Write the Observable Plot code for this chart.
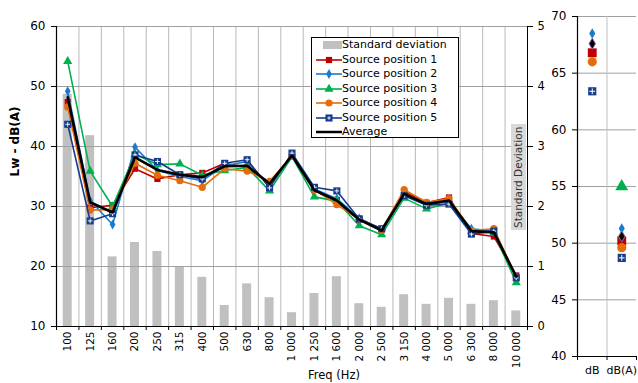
<!DOCTYPE html>
<html>
<head>
<meta charset="utf-8">
<script src="https://cdn.jsdelivr.net/npm/d3@7"></script>
<script src="https://cdn.jsdelivr.net/npm/@observablehq/plot@0.6"></script>
<style>
  html, body { margin: 0; padding: 0; background: white; }
  #wrap { position: relative; width: 638px; height: 383px; font-family: "DejaVu Sans", sans-serif; overflow: hidden; }
  .legend { position: absolute; left: 311px; top: 37px; width: 146px; height: 99px; border: 1px solid #000; background: #fff; font-size: 11px; color: #000; }
  .legend .row { position: absolute; left: 0; height: 14px; line-height: 14px; white-space: nowrap; }
  .legend svg { position: absolute; left: 2px; top: 0; }
  .legend span { position: absolute; left: 30px; top: 0; }
  .sdlabel { position: absolute; left: 511px; top: 124px; width: 15px; height: 106px; background: #d9d9d9; color: #333;
             font-size: 10.5px; writing-mode: vertical-rl; transform: rotate(180deg); text-align: center; line-height: 15px; }
</style>
</head>
<body>
<div id="wrap"></div>
<script>
// ---- Data ----
const freqs = ["100","125","160","200","250","315","400","500","630","800","1 000","1 250","1 600","2 000","2 500","3 150","4 000","5 000","6 300","8 000","10 000"];
const stdDev = [3.87, 3.18, 1.16, 1.40, 1.25, 1.00, 0.82, 0.35, 0.71, 0.48, 0.23, 0.55, 0.83, 0.38, 0.32, 0.53, 0.37, 0.47, 0.37, 0.43, 0.26];
const pos1 = [47.4, 29.8, 30.2, 36.3, 34.6, 35.3, 35.6, 37.2, 36.5, 33.8, 38.5, 32.8, 31.1, 28.0, 26.2, 32.5, 30.6, 31.5, 25.5, 25.0, 18.5];
const pos2 = [49.2, 31.0, 27.0, 39.9, 36.0, 35.0, 34.3, 36.8, 37.5, 33.3, 38.6, 32.9, 31.3, 28.0, 26.1, 32.0, 30.2, 30.9, 26.3, 25.9, 18.2];
const pos3 = [54.2, 35.9, 30.0, 38.7, 37.0, 37.1, 35.2, 36.0, 36.5, 32.6, 38.3, 31.6, 30.9, 26.8, 25.3, 31.4, 29.6, 30.6, 25.8, 25.6, 17.3];
const pos4 = [46.6, 29.4, 29.5, 37.2, 35.2, 34.3, 33.2, 36.3, 35.9, 34.2, 38.4, 32.8, 30.3, 27.8, 26.0, 32.8, 30.7, 31.3, 26.0, 26.3, 18.2];
const pos5 = [43.7, 27.6, 28.8, 38.6, 37.5, 35.3, 34.6, 37.2, 37.8, 33.1, 38.9, 33.2, 32.6, 27.9, 26.3, 31.8, 30.2, 30.4, 25.4, 25.9, 18.1];
const average = [48.2, 30.7, 29.0, 38.2, 36.1, 35.3, 34.9, 36.7, 36.8, 33.8, 38.5, 32.7, 31.0, 27.8, 26.0, 32.1, 30.4, 31.0, 25.9, 25.7, 18.3];

const seriesNames = ["Source position 1", "Source position 2", "Source position 3", "Source position 4", "Source position 5", "Average"];
const seriesColors = ["#c00000", "#1a7ad0", "#00b050", "#e46c0a", "#163c8c", "#000000"];
const seriesSymbols = ["square", "diamond", "triangle", "circle", "square", "diamond"];

const overallLabels = ["dB", "dB(A)"];
const overallDB  = [66.8, 68.5, null, 66.0, 63.4, 67.6];
const overallDBA = [50.2, 51.3, 55.0, 49.6, 48.7, 50.6];

const leftTicks = [10, 20, 30, 40, 50, 60];
const sideTicks = [40, 45, 50, 55, 60, 65, 70];

// ---- Build ----
const allSeries = [pos1, pos2, pos3, pos4, pos5, average];
const idx = d3.range(freqs.length);
const bounds = d3.range(freqs.length + 1).map(i => i - 0.5);
const rowsOf = s => allSeries[s].map((v, i) => ({i, v}));
const font = "DejaVu Sans, sans-serif";

const markSizes = [3.5, 3.0, 3.4, 3.6, 4.0];
const seriesMarks = [];
for (let s = 0; s < 5; s++) {
  const rows = rowsOf(s);
  seriesMarks.push(Plot.line(rows, {x: "i", y: "v", stroke: seriesColors[s], strokeWidth: 1.6}));
  seriesMarks.push(Plot.dot(rows, {x: "i", y: "v", symbol: seriesSymbols[s], fill: seriesColors[s], stroke: "none", r: markSizes[s]}));
  if (s === 4) seriesMarks.push(Plot.dot(rows, {x: "i", y: "v", symbol: "plus", stroke: "#fff", strokeWidth: 0.9, r: 1.6}));
}
seriesMarks.push(Plot.line(rowsOf(5), {x: "i", y: "v", stroke: "#000", strokeWidth: 2.6}));

const main = Plot.plot({
  width: 560, height: 383,
  marginLeft: 56, marginRight: 33, marginTop: 26, marginBottom: 57,
  style: {fontFamily: font, fontSize: "11px", background: "transparent", overflow: "visible"},
  x: {type: "linear", domain: [-0.5, freqs.length - 0.5]},
  y: {domain: [10, 60]},
  marks: [
    Plot.rectY(stdDev, {x1: (d, i) => i - 0.2, x2: (d, i) => i + 0.2, y1: 10, y2: d => 10 + d * 10, fill: "#c0c0c0"}),
    Plot.ruleX(bounds.slice(1, -1), {stroke: "#b8b8b8", strokeWidth: 1}),
    Plot.ruleY(leftTicks.slice(1), {stroke: "#a0a0a0", strokeWidth: 1}),
    ...seriesMarks,
    Plot.ruleX([bounds[0]], {stroke: "#000", strokeWidth: 1.2}),
    Plot.ruleX([bounds[bounds.length - 1]], {stroke: "#000", strokeWidth: 1}),
    Plot.ruleY([10], {stroke: "#000", strokeWidth: 1.2}),
    Plot.axisY({ticks: leftTicks, tickSize: 5, tickPadding: 6, fontSize: 12, label: null}),
    Plot.axisY({anchor: "right", ticks: leftTicks, tickFormat: d => String((d - 10) / 10), tickSize: 5, tickPadding: 5, fontSize: 11.5, label: null}),
    Plot.axisX({ticks: bounds, tickFormat: () => "", tickSize: 4, label: null}),
    Plot.axisX({ticks: idx, tickFormat: i => freqs[i], tickSize: 0, tickPadding: 5, tickRotate: -90, fontSize: 10.5, label: null}),
    Plot.text(["Lw - dB(A)"], {frameAnchor: "left", rotate: -90, dx: -41, fontWeight: "bold", fontSize: 12}),
    Plot.text(["Freq (Hz)"], {frameAnchor: "bottom", dx: 42, dy: 52, fontSize: 11.5})
  ]
});

const sideRows = [];
for (let s = 0; s < 6; s++) {
  if (overallDB[s] != null) sideRows.push({s, x: 0, v: overallDB[s]});
  if (overallDBA[s] != null) sideRows.push({s, x: 1, v: overallDBA[s]});
}
const sideSizes = [5, 3.2, 4.8, 4.6, 4.6, 3.4];
const sideMarks = [];
for (let s = 0; s < 6; s++) {
  const rows = sideRows.filter(d => d.s === s);
  sideMarks.push(Plot.dot(rows, {x: "x", y: "v", symbol: seriesSymbols[s], fill: seriesColors[s],
    stroke: s === 5 ? "#8a70b8" : "none", strokeWidth: 1, r: sideSizes[s]}));
  if (s === 4) sideMarks.push(Plot.dot(rows, {x: "x", y: "v", symbol: "plus", stroke: "#fff", strokeWidth: 1, r: 2}));
}

const side = Plot.plot({
  width: 98, height: 383,
  marginLeft: 37, marginRight: 2, marginTop: 16, marginBottom: 27,
  style: {fontFamily: font, fontSize: "11px", background: "transparent", overflow: "visible"},
  x: {type: "linear", domain: [-0.5, 1.5]},
  y: {domain: [40, 70]},
  marks: [
    Plot.ruleY(sideTicks.slice(1), {stroke: "#a0a0a0", strokeWidth: 1}),
    Plot.ruleX([0.5], {stroke: "#c0c0c0", strokeWidth: 1}),
    ...sideMarks,
    Plot.ruleX([-0.5], {stroke: "#000", strokeWidth: 1.2}),
    Plot.ruleY([40], {stroke: "#000", strokeWidth: 1.2}),
    Plot.axisY({ticks: sideTicks, tickSize: 5, tickPadding: 6, fontSize: 12, label: null}),
    Plot.axisX({ticks: [-0.5, 0.5, 1.5], tickFormat: () => "", tickSize: 4, label: null}),
    Plot.axisX({ticks: [0, 1], tickFormat: i => overallLabels[i], tickSize: 0, tickPadding: 10, fontSize: 11, label: null})
  ]
});

const wrap = document.getElementById("wrap");
main.style.position = "absolute"; main.style.left = "0px"; main.style.top = "0px";
side.style.position = "absolute"; side.style.left = "540px"; side.style.top = "0px";
wrap.appendChild(main);
wrap.appendChild(side);

// Standard Deviation axis title
const sd = document.createElement("div");
sd.className = "sdlabel";
sd.textContent = "Standard Deviation";
wrap.appendChild(sd);

// Legend
const legend = document.createElement("div");
legend.className = "legend";
const items = [{name: "Standard deviation", type: "bar"}].concat(seriesNames.map((n, s) => ({name: n, type: "series", s})));
const rowTops = [0, 14.5, 28.8, 43.5, 57.8, 72.5, 86.8];
items.forEach((it, k) => {
  const row = document.createElement("div");
  row.className = "row";
  row.style.top = rowTops[k] + "px";
  const ns = "http://www.w3.org/2000/svg";
  const svg = document.createElementNS(ns, "svg");
  svg.setAttribute("width", 28); svg.setAttribute("height", 14);
  if (it.type === "bar") {
    const r = document.createElementNS(ns, "rect");
    r.setAttribute("x", 9); r.setAttribute("y", 3); r.setAttribute("width", 19); r.setAttribute("height", 8);
    r.setAttribute("fill", "#c0c0c0");
    svg.appendChild(r);
  } else {
    const l = document.createElementNS(ns, "line");
    l.setAttribute("x1", 2); l.setAttribute("x2", 28); l.setAttribute("y1", 7); l.setAttribute("y2", 7);
    l.setAttribute("stroke", seriesColors[it.s]); l.setAttribute("stroke-width", it.s === 5 ? 2.5 : 1.6);
    svg.appendChild(l);
    if (it.s < 5) {
      const p = document.createElementNS(ns, "path");
      p.setAttribute("d", d3.symbol(d3["symbol" + seriesSymbols[it.s][0].toUpperCase() + seriesSymbols[it.s].slice(1)], Math.PI * markSizes[it.s] * markSizes[it.s])());
      p.setAttribute("transform", "translate(15,7)");
      p.setAttribute("fill", seriesColors[it.s]);
      svg.appendChild(p);
      if (it.s === 4) {
        const c = document.createElementNS(ns, "path");
        c.setAttribute("d", "M13.3,7H16.7M15,5.3V8.7");
        c.setAttribute("stroke", "#fff"); c.setAttribute("stroke-width", 0.9);
        svg.appendChild(c);
      }
    }
  }
  row.appendChild(svg);
  const t = document.createElement("span");
  t.textContent = it.name;
  row.appendChild(t);
  legend.appendChild(row);
});
wrap.appendChild(legend);
</script>
</body>
</html>
